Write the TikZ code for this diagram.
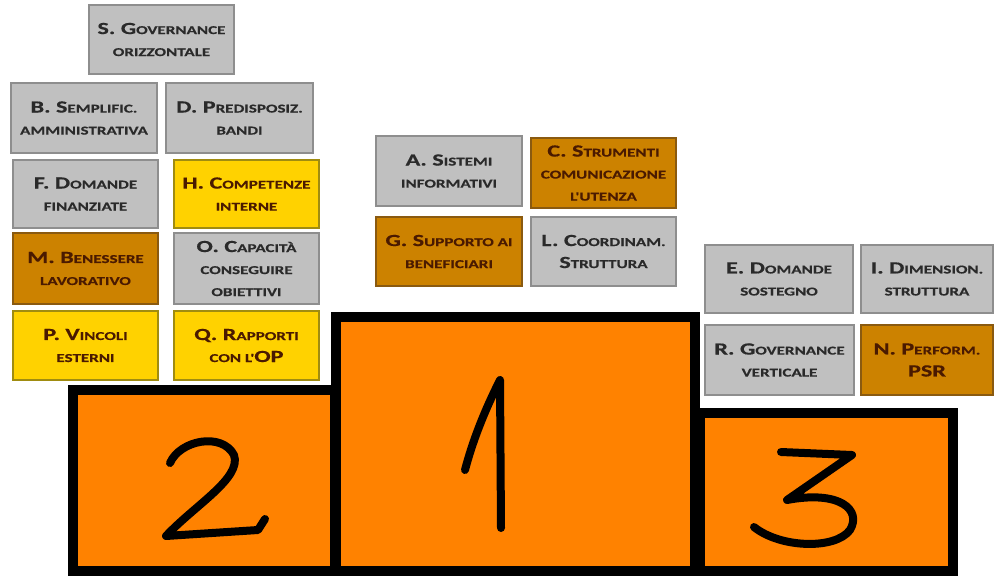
\documentclass[tikz,border=0pt]{standalone}
\usepackage{fontspec}
\newfontfamily\boxfont{Carlito}[FakeStretch=1.42, BoldFeatures={FakeBold=0.5}]
\newcommand\bigc[1]{{\fontsize{17}{22}\selectfont #1}}
\newcommand\smc[1]{{\fontsize{12}{22}\selectfont #1}}
\definecolor{gfill}{HTML}{C0C0C0}
\definecolor{gdraw}{HTML}{8E8E8E}
\definecolor{yfill}{HTML}{FFD200}
\definecolor{ydraw}{HTML}{A08C10}
\definecolor{ofill}{HTML}{CC8200}
\definecolor{odraw}{HTML}{8A5A10}
\definecolor{podium}{HTML}{FF8200}
\definecolor{darktxt}{HTML}{2A2A2A}
\definecolor{browntxt}{HTML}{4A1A00}
\tikzset{
  basebox/.style={rectangle, line width=1.3pt, align=center, inner sep=0pt,
    font=\boxfont\bfseries\fontsize{12}{22}\selectfont},
  gbox/.style={basebox, fill=gfill, draw=gdraw, text=darktxt},
  ybox/.style={basebox, fill=yfill, draw=ydraw, text=browntxt},
  obox/.style={basebox, fill=ofill, draw=odraw, text=browntxt},
  podiumbox/.style={fill=podium, draw=black, line width=10pt, line join=miter},
  digit/.style={draw=black, line width=8pt, line cap=round, line join=round},
}
\begin{document}
\begin{tikzpicture}[x=1pt,y=-1pt]
\useasboundingbox[fill=white] (0,0) rectangle (994,576);
% left column
\node[gbox, minimum width=145pt, minimum height=69pt] (S) at (161.5,39.5) {\bigc{S. G}\smc{OVERNANCE}\\\smc{ORIZZONTALE}};
\node[gbox, minimum width=146pt, minimum height=70pt] (B) at (84,118) {\bigc{B. S}\smc{EMPLIFIC.}\\\smc{AMMINISTRATIVA}};
\node[gbox, minimum width=147pt, minimum height=70pt] (D) at (239.5,118) {\bigc{D. P}\smc{REDISPOSIZ.}\\\smc{BANDI}};
\node[gbox, minimum width=145pt, minimum height=68pt] (F) at (85.5,194) {\bigc{F. D}\smc{OMANDE}\\\smc{FINANZIATE}};
\node[ybox, minimum width=145pt, minimum height=68pt] (H) at (246.5,194) {\bigc{H. C}\smc{OMPETENZE}\\\smc{INTERNE}};
\node[obox, minimum width=145pt, minimum height=71pt] (M) at (85.5,268.5) {\bigc{M. B}\smc{ENESSERE}\\\smc{LAVORATIVO}};
\node[gbox, minimum width=145pt, minimum height=71pt] (O) at (246.5,268.5) {\bigc{O. C}\smc{APACITÀ}\\\smc{CONSEGUIRE}\\\smc{OBIETTIVI}};
\node[ybox, minimum width=145pt, minimum height=69pt] (P) at (85.5,345.5) {\bigc{P. V}\smc{INCOLI}\\\smc{ESTERNI}};
\node[ybox, minimum width=145pt, minimum height=69pt] (Q) at (246.5,345.5) {\bigc{Q. R}\smc{APPORTI}\\\smc{CON L'}\bigc{OP}};
% middle
\node[gbox, minimum width=146pt, minimum height=70pt] (A) at (449,171) {\bigc{A. S}\smc{ISTEMI}\\\smc{INFORMATIVI}};
\node[obox, minimum width=145pt, minimum height=70pt] (C) at (603.5,173) {\bigc{C. S}\smc{TRUMENTI}\\\smc{COMUNICAZIONE}\\\smc{L'UTENZA}};
\node[obox, minimum width=146pt, minimum height=69pt] (G) at (449,251.5) {\bigc{G. S}\smc{UPPORTO AI}\\\smc{BENEFICIARI}};
\node[gbox, minimum width=145pt, minimum height=69pt] (L) at (603.5,251.5) {\bigc{L. C}\smc{OORDINAM.}\\\bigc{S}\smc{TRUTTURA}};
% right
\node[gbox, minimum width=148pt, minimum height=68pt] (E) at (779,279) {\bigc{E. D}\smc{OMANDE}\\\smc{SOSTEGNO}};
\node[gbox, minimum width=132pt, minimum height=68pt] (I) at (927,279) {\bigc{I. D}\smc{IMENSION.}\\\smc{STRUTTURA}};
\node[gbox, minimum width=149pt, minimum height=70pt] (R) at (779.5,360) {\bigc{R. G}\smc{OVERNANCE}\\\smc{VERTICALE}};
\node[obox, minimum width=132pt, minimum height=70pt] (N) at (927,360) {\bigc{N. P}\smc{ERFORM.}\\\bigc{PSR}};
% podium
\draw[podiumbox] (73,390) rectangle (335,571);
\draw[podiumbox] (700,413) rectangle (953,571);
\draw[podiumbox] (336,317) rectangle (695,571);
% hand-drawn digits
\draw[digit] (170,463) .. controls (180,440) and (222,432) .. (234,455)
  .. controls (242,478) and (195,505) .. (166,536) -- (258,530) -- (265,519);
\draw[digit] (465,470) .. controls (475,432) and (490,400) .. (500,380) -- (501,528);
\draw[digit] (781,452) -- (852,455) -- (787,500)
  .. controls (840,490) and (862,510) .. (850,530)
  .. controls (835,550) and (780,548) .. (754,527);
\end{tikzpicture}
\end{document}
